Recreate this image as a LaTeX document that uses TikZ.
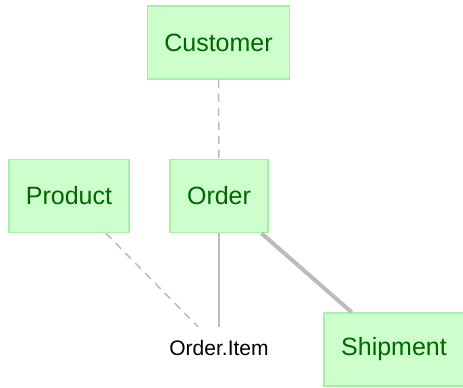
\documentclass[tikz,border=0pt]{standalone}
\usepackage{fontspec}
\setmainfont{Liberation Sans}
\usetikzlibrary{positioning}
\definecolor{boxfill}{HTML}{CCFFCC}
\definecolor{boxline}{HTML}{A8F0A8}
\definecolor{boxtext}{HTML}{006600}
\definecolor{linkgray}{HTML}{BBBBBB}

\begin{document}
\begin{tikzpicture}[x=1pt, y=-1pt,
  entity/.style={draw=boxline, line width=1.5pt, fill=boxfill, text=boxtext,
    font=\fontsize{25}{30}\selectfont, minimum height=73pt, inner xsep=17pt},
  member/.style={font=\fontsize{21}{25}\selectfont, minimum height=42pt, inner xsep=2pt},
  weak/.style={linkgray, line width=1.5pt, dash pattern=on 8pt off 6pt},
  plain/.style={linkgray, line width=1.5pt},
  strong/.style={linkgray, line width=4pt}]

 \useasboundingbox (0,0) rectangle (463,388);

 %entities
 \node[entity] (Customer) at (218.5, 42.5) {Customer};
 \node[entity] (Product)  at (69, 196)     {Product};
 \node[entity] (Order)    at (219, 196)    {Order};
 \node[entity] (Shipment) at (394, 349.5)  {Shipment};
 \node[member] (Item)     at (219, 348)    {Order.Item};

 %links
 \draw[weak]   (Customer) -- (Order);
 \draw[weak]   (Product)  -- (Item);
 \draw[plain]  (Order)    -- (Item);
 \draw[strong] (Order)    -- (Shipment);

\end{tikzpicture}
\end{document}
